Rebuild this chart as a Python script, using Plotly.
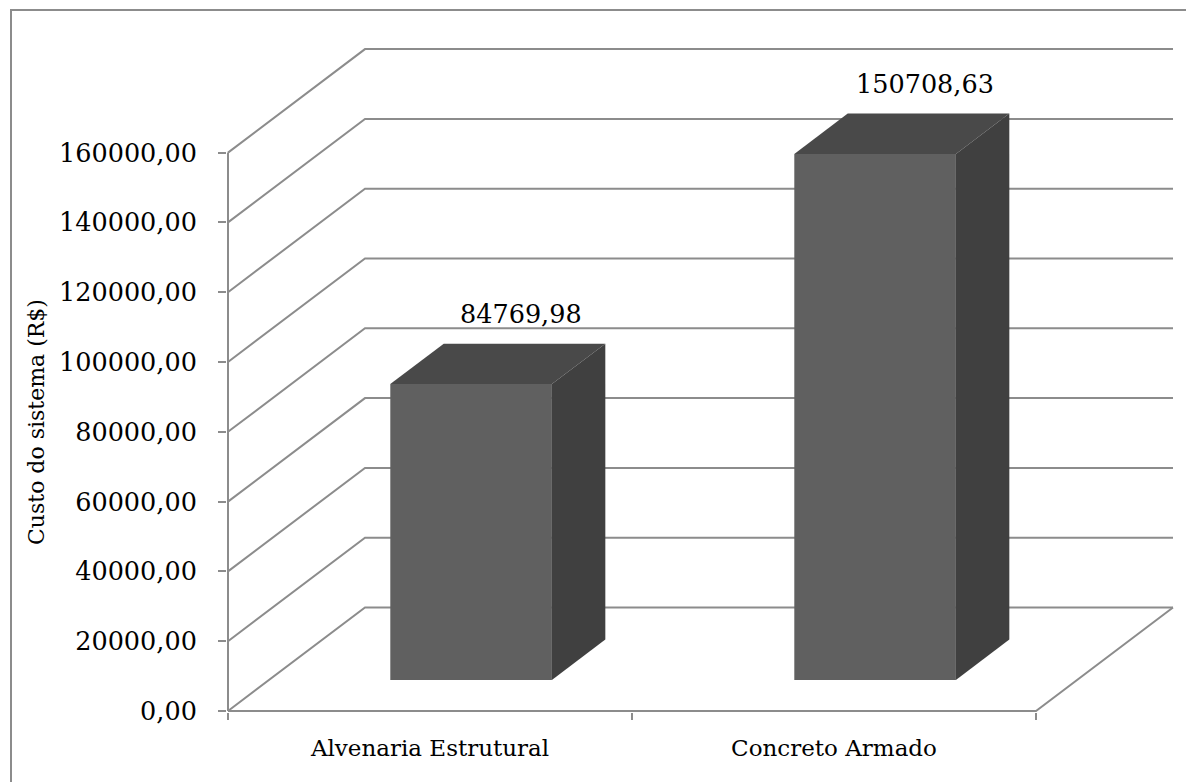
import plotly.graph_objects as go

# ---- data -------------------------------------------------------------
categories = ["Alvenaria Estrutural", "Concreto Armado"]
custos = [84769.98, 150708.63]
y_ticks = [0, 20000, 40000, 60000, 80000, 100000, 120000, 140000, 160000]
y_title = "Custo do sistema (R$)"

# ---- 3-D look (oblique projection in data units) ----------------------
PX_PER_CAT = 404.0          # pixels per category slot
PX_PER_UNIT = 0.00349       # pixels per R$
DEPTH_PX = (137.0, 103.5)   # screen shift from front plane to back wall
DX = DEPTH_PX[0] / PX_PER_CAT
DV = DEPTH_PX[1] / PX_PER_UNIT
BAR_W = 0.4                 # bar width (category units)
D0, D1 = 0.30, 0.69         # bar depth span (0 = front, 1 = back wall)

GRID = "#8c8c8c"
FRONT, TOP, SIDE = "#606060", "#494949", "#404040"
FONT = "DejaVu Serif"

W, H = 1186, 782
M_L, M_R, M_T, M_B = 227, 0, 0, 70

n = len(categories)
x_lo = -1.0 / PX_PER_CAT
x_hi = x_lo + (W - M_L - M_R) / PX_PER_CAT
y_lo = -1.0 / PX_PER_UNIT
y_hi = y_lo + (H - M_T - M_B) / PX_PER_UNIT


def proj(x, v, d):
    return x + d * DX, v + d * DV


fig = go.Figure()

# walls: left-wall diagonals + back-wall horizontals for each gridline
gx, gy = [], []
for v in y_ticks:
    for pt in (proj(0, v, 0), proj(0, v, 1), proj(n, v, 1)):
        gx.append(pt[0]); gy.append(pt[1])
    gx.append(None); gy.append(None)
# floor: front edge and right edge
for pt in (proj(0, 0, 0), proj(n, 0, 0), proj(n, 0, 1)):
    gx.append(pt[0]); gy.append(pt[1])
gx.append(None); gy.append(None)
# front value axis
for pt in (proj(0, 0, 0), proj(0, y_ticks[-1], 0)):
    gx.append(pt[0]); gy.append(pt[1])

fig.add_trace(go.Scatter(x=gx, y=gy, mode="lines", hoverinfo="skip",
                         line=dict(color=GRID, width=2), showlegend=False))

# bars: front, top and right-hand side faces
for i, (cat, v) in enumerate(zip(categories, custos)):
    x0 = i + 0.5 - BAR_W / 2
    x1 = i + 0.5 + BAR_W / 2
    faces = [
        (FRONT, [(x0, 0, D0), (x1, 0, D0), (x1, v, D0), (x0, v, D0)]),
        (TOP, [(x0, v, D0), (x1, v, D0), (x1, v, D1), (x0, v, D1)]),
        (SIDE, [(x1, 0, D0), (x1, 0, D1), (x1, v, D1), (x1, v, D0)]),
    ]
    for color, pts in faces:
        pp = [proj(*p) for p in pts]
        xs = [p[0] for p in pp] + [pp[0][0]]
        ys = [p[1] for p in pp] + [pp[0][1]]
        fig.add_trace(go.Scatter(x=xs, y=ys, mode="lines", fill="toself",
                                 fillcolor=color, line=dict(width=0, color=color),
                                 hoverinfo="skip", showlegend=False, name=cat))
    lx, ly = proj(i + 0.5, v, D1)
    fig.add_annotation(x=lx, y=ly, xref="x", yref="y",
                       text=f"{v:.2f}".replace(".", ","), showarrow=False,
                       xshift=-4, yshift=30, yanchor="middle",
                       font=dict(family=FONT, size=25.5, color="black"))

# value-axis title
fig.add_annotation(xref="paper", yref="paper",
                   x=(37 - M_L) / (W - M_L - M_R), y=1 - (422 - M_T) / (H - M_T - M_B),
                   text=y_title, textangle=-90, showarrow=False,
                   xanchor="center", yanchor="middle",
                   font=dict(family=FONT, size=22, color="black"))

# outer chart border
fig.add_shape(type="rect", xref="paper", yref="paper",
              x0=(11 - M_L) / (W - M_L - M_R), x1=1.05,
              y0=-0.2, y1=1 - (10 - M_T) / (H - M_T - M_B),
              line=dict(color=GRID, width=2), layer="below")

fig.update_layout(
    width=W, height=H,
    margin=dict(l=M_L, r=M_R, t=M_T, b=M_B),
    paper_bgcolor="white", plot_bgcolor="white",
    showlegend=False,
    font=dict(family=FONT),
    xaxis=dict(range=[x_lo, x_hi], showgrid=False, zeroline=False, showline=False,
               tickmode="array", tickvals=[i + 0.5 for i in range(n)],
               ticktext=categories, ticks="",
               tickfont=dict(family=FONT, size=23, color="black"),
               ticklabelstandoff=20,
               minor=dict(tickmode="linear", tick0=0, dtick=1, ticks="outside",
                          ticklen=7, tickwidth=2, tickcolor=GRID, showgrid=False),
               fixedrange=True),
    yaxis=dict(range=[y_lo, y_hi], showgrid=False, zeroline=False, showline=False,
               tickmode="array", tickvals=y_ticks,
               ticktext=[f"{t:.2f}".replace(".", ",") for t in y_ticks],
               ticks="outside", ticklen=8, tickwidth=2, tickcolor=GRID,
               tickfont=dict(family=FONT, size=25.5, color="black"),
               ticklabelstandoff=16, fixedrange=True),
)

fig.write_html("out.html")
